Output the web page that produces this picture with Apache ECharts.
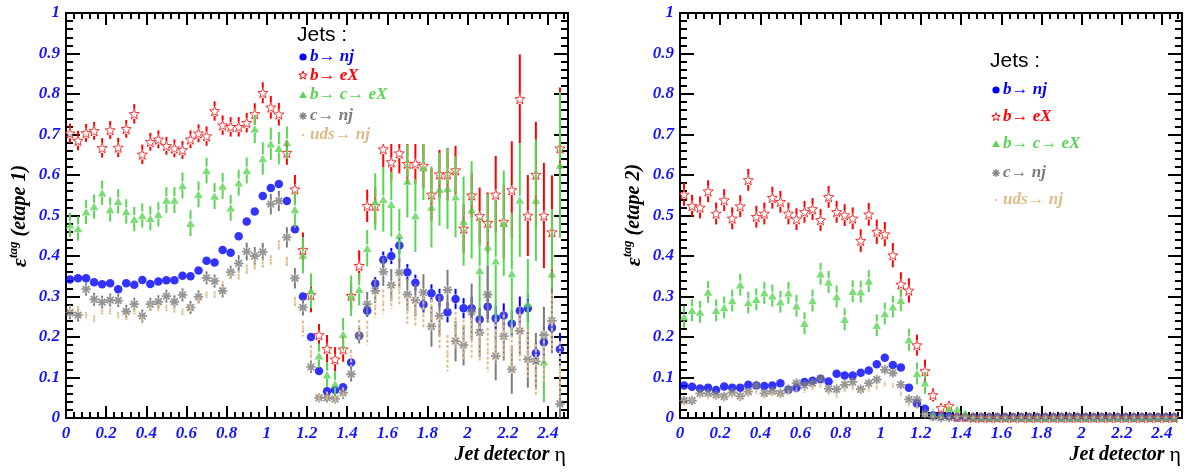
<!DOCTYPE html>
<html><head><meta charset="utf-8">
<script src="https://cdn.jsdelivr.net/npm/echarts@6/dist/echarts.min.js"></script>
<style>html,body{margin:0;padding:0;background:#fff;}#c{width:1190px;height:472px;}</style>
</head><body><div id="c"></div>
<script>
// bin centres (Jet detector eta)
const eta = [0.02,0.06,0.10,0.14,0.18,0.22,0.26,0.30,0.34,0.38,
 0.42,0.46,0.50,0.54,0.58,0.62,0.66,0.70,0.74,0.78,
 0.82,0.86,0.90,0.94,0.98,1.02,1.06,1.10,1.14,1.18,
 1.22,1.26,1.30,1.34,1.38,1.42,1.46,1.50,1.54,1.58,
 1.62,1.66,1.70,1.74,1.78,1.82,1.86,1.90,1.94,1.98,
 2.02,2.06,2.10,2.14,2.18,2.22,2.26,2.30,2.34,2.38,
 2.42,2.46];

const legendLabels = ['b\u2192 nj','b\u2192 eX','b\u2192 c\u2192 eX','c\u2192 nj','uds\u2192 nj'];

// ---- panel 1 (etape 1) ----
const bNjL = [0.342,0.345,0.345,0.335,0.330,0.333,0.318,0.333,0.329,0.341,
 0.331,0.337,0.340,0.340,0.351,0.350,0.364,0.388,0.384,0.415,
 0.408,0.449,0.485,0.510,0.548,0.568,0.578,0.536,0.466,0.300,
 0.200,0.116,0.066,0.069,0.076,0.137,0.203,0.265,0.332,0.391,
 0.400,0.426,0.360,0.334,0.280,0.308,0.297,0.261,0.294,0.271,
 0.271,0.243,0.275,0.246,0.253,0.233,0.265,0.271,0.160,0.187,
 0.223,0.170];
const bNjErrL = [0.005,0.005,0.005,0.005,0.005,0.005,0.005,0.005,0.005,0.005,
 0.005,0.005,0.005,0.005,0.005,0.005,0.005,0.005,0.005,0.005,
 0.005,0.007,0.007,0.007,0.007,0.007,0.007,0.007,0.007,0.010,
 0.010,0.010,0.008,0.008,0.008,0.010,0.012,0.015,0.016,0.020,
 0.020,0.020,0.020,0.020,0.020,0.022,0.022,0.025,0.025,0.025,
 0.028,0.028,0.030,0.030,0.030,0.032,0.035,0.035,0.025,0.040,
 0.030,0.040];
const bEXL = [0.703,0.685,0.704,0.709,0.667,0.711,0.668,0.714,0.751,0.651,
 0.682,0.688,0.672,0.666,0.662,0.688,0.703,0.696,0.758,0.723,
 0.719,0.719,0.729,0.751,0.803,0.767,0.750,0.655,0.565,0.415,
 0.304,0.205,0.171,0.145,0.170,0.302,0.376,0.524,0.524,0.664,
 0.632,0.654,0.628,0.628,0.623,0.552,0.602,0.602,0.612,0.468,
 0.550,0.499,0.482,0.552,0.485,0.563,0.788,0.500,0.601,0.500,
 0.459,0.666];
const bEXErrL = [0.024,0.024,0.022,0.022,0.024,0.022,0.024,0.022,0.024,0.024,
 0.022,0.022,0.022,0.022,0.022,0.022,0.022,0.024,0.024,0.024,
 0.024,0.024,0.024,0.026,0.026,0.028,0.028,0.030,0.035,0.043,
 0.043,0.027,0.034,0.030,0.031,0.033,0.038,0.040,0.047,0.045,
 0.045,0.050,0.050,0.050,0.055,0.065,0.060,0.065,0.060,0.060,
 0.055,0.070,0.075,0.095,0.090,0.120,0.110,0.100,0.130,0.130,
 0.140,0.150];
const bcEXL = [0.477,0.468,0.509,0.522,0.556,0.515,0.535,0.510,0.491,0.500,
 0.493,0.503,0.538,0.538,0.574,0.481,0.552,0.611,0.548,0.573,
 0.519,0.581,0.611,0.714,0.641,0.677,0.666,0.680,0.515,0.402,
 0.314,0.154,0.107,0.084,0.207,0.302,0.318,0.419,0.534,0.540,
 0.528,0.451,0.585,0.500,0.618,0.521,0.565,0.567,0.546,0.486,
 0.514,0.365,0.423,0.388,0.481,0.357,0.538,0.283,0.538,0.139,
 0.356,0.625];
const bcEXErrL = [0.030,0.030,0.030,0.030,0.030,0.030,0.030,0.030,0.030,0.030,
 0.030,0.030,0.032,0.032,0.032,0.032,0.032,0.032,0.032,0.032,
 0.032,0.032,0.032,0.035,0.040,0.040,0.040,0.040,0.045,0.045,
 0.043,0.030,0.030,0.030,0.040,0.050,0.040,0.045,0.070,0.080,
 0.080,0.065,0.090,0.090,0.080,0.100,0.090,0.100,0.100,0.110,
 0.120,0.130,0.130,0.150,0.130,0.150,0.140,0.110,0.150,0.100,
 0.160,0.180];
const cNjL = [0.260,0.254,0.318,0.293,0.286,0.291,0.290,0.263,0.281,0.252,
 0.281,0.287,0.301,0.287,0.304,0.273,0.299,0.346,0.338,0.314,
 0.360,0.382,0.411,0.400,0.410,0.528,0.536,0.446,0.345,0.273,
 0.126,0.050,0.050,0.047,0.062,0.108,0.204,0.281,0.314,0.361,
 0.328,0.359,0.305,0.291,0.310,0.226,0.252,0.316,0.190,0.180,
 0.262,0.211,0.305,0.153,0.202,0.120,0.215,0.145,0.140,0.205,
 0.240,0.035];
const cNjErrL = [0.016,0.016,0.016,0.016,0.016,0.016,0.016,0.016,0.016,0.016,
 0.016,0.016,0.016,0.016,0.016,0.016,0.016,0.016,0.016,0.016,
 0.016,0.020,0.022,0.022,0.022,0.025,0.025,0.025,0.025,0.020,
 0.015,0.012,0.012,0.012,0.015,0.018,0.020,0.030,0.030,0.035,
 0.040,0.035,0.040,0.040,0.045,0.050,0.050,0.050,0.050,0.050,
 0.070,0.060,0.070,0.060,0.060,0.060,0.060,0.070,0.070,0.070,
 0.080,0.070];
const udsNjL = [0.270,0.268,0.254,0.245,0.264,0.264,0.254,0.250,0.264,0.242,
 0.275,0.272,0.272,0.268,0.262,0.270,0.291,0.304,0.305,0.330,
 0.353,0.353,0.367,0.378,0.382,0.390,0.427,0.386,0.287,0.221,
 0.160,0.050,0.055,0.045,0.060,0.148,0.217,0.210,0.277,0.287,
 0.300,0.316,0.267,0.264,0.260,0.254,0.209,0.160,0.217,0.193,
 0.197,0.190,0.168,0.190,0.200,0.170,0.200,0.160,0.118,0.151,
 0.238,0.120];
const udsNjErrL = [0.008,0.008,0.008,0.008,0.008,0.008,0.008,0.008,0.008,0.008,
 0.008,0.008,0.008,0.008,0.008,0.008,0.008,0.008,0.008,0.008,
 0.008,0.012,0.012,0.012,0.012,0.012,0.012,0.012,0.012,0.020,
 0.020,0.010,0.010,0.010,0.015,0.020,0.025,0.030,0.030,0.030,
 0.030,0.035,0.035,0.035,0.040,0.040,0.040,0.045,0.045,0.050,
 0.050,0.050,0.055,0.055,0.055,0.060,0.060,0.060,0.065,0.065,
 0.070,0.070];

// ---- panel 2 (etape 2) ----
const bNjR = [0.080,0.077,0.073,0.075,0.069,0.078,0.075,0.075,0.082,0.080,
 0.079,0.080,0.086,0.070,0.075,0.089,0.092,0.096,0.090,0.109,
 0.105,0.105,0.112,0.117,0.133,0.149,0.131,0.125,0.075,0.036,
 0.023,0.007,0.005,0.005,0.002,0.002,0.002,0.002,0.002,0.002,
 0.002,0.002,0.002,0.002,0.002,0.002,0.002,0.002,0.002,0.002,
 0.002,0.002,0.002,0.002,0.002,0.002,0.002,0.002,0.002,0.002,
 0.002,0.002];
const bNjErrR = [0.004,0.004,0.004,0.004,0.004,0.004,0.004,0.004,0.004,0.004,
 0.004,0.004,0.004,0.004,0.004,0.004,0.004,0.004,0.004,0.004,
 0.004,0.004,0.004,0.004,0.004,0.004,0.004,0.004,0.004,0.004,
 0.004,0.003,0.002,0.002,0.001,0.001,0.001,0.001,0.001,0.001,
 0.001,0.001,0.001,0.001,0.001,0.001,0.001,0.001,0.001,0.001,
 0.001,0.001,0.001,0.001,0.001,0.001,0.001,0.001,0.001,0.001,
 0.001,0.001];
const bEXR = [0.552,0.524,0.520,0.560,0.505,0.538,0.493,0.523,0.588,0.497,
 0.505,0.544,0.534,0.505,0.491,0.509,0.516,0.489,0.546,0.509,
 0.501,0.493,0.438,0.503,0.460,0.454,0.402,0.330,0.315,0.180,
 0.116,0.057,0.025,0.030,0.003,0.003,0.001,0.001,0.001,0.001,
 0.001,0.001,0.001,0.001,0.001,0.001,0.001,0.001,0.001,0.001,
 0.001,0.001,0.001,0.001,0.001,0.001,0.001,0.001,0.001,0.001,
 0.001,0.001];
const bEXErrR = [0.028,0.027,0.027,0.027,0.027,0.027,0.027,0.027,0.027,0.027,
 0.027,0.027,0.027,0.027,0.027,0.027,0.027,0.027,0.027,0.027,
 0.027,0.027,0.028,0.028,0.030,0.030,0.030,0.030,0.030,0.026,
 0.028,0.016,0.012,0.012,0.002,0.002,0.001,0.001,0.001,0.001,
 0.001,0.001,0.001,0.001,0.001,0.001,0.001,0.001,0.001,0.001,
 0.001,0.001,0.001,0.001,0.001,0.001,0.001,0.001,0.001,0.001,
 0.001,0.001];
const bcEXR = [0.250,0.266,0.262,0.311,0.266,0.273,0.290,0.329,0.285,0.293,
 0.309,0.302,0.287,0.309,0.277,0.234,0.290,0.356,0.336,0.300,
 0.244,0.313,0.312,0.338,0.229,0.258,0.275,0.291,0.193,0.110,
 0.087,0.010,0.007,0.024,0.022,0.012,0.001,0.001,0.001,0.001,
 0.001,0.001,0.001,0.001,0.001,0.001,0.001,0.001,0.001,0.001,
 0.001,0.001,0.001,0.001,0.001,0.001,0.001,0.001,0.001,0.001,
 0.001,0.001];
const bcEXErrR = [0.027,0.027,0.027,0.027,0.027,0.027,0.027,0.027,0.027,0.027,
 0.027,0.027,0.027,0.027,0.027,0.027,0.027,0.027,0.027,0.027,
 0.027,0.027,0.027,0.027,0.027,0.027,0.027,0.027,0.027,0.027,
 0.027,0.012,0.010,0.010,0.010,0.008,0.001,0.001,0.001,0.001,
 0.001,0.001,0.001,0.001,0.001,0.001,0.001,0.001,0.001,0.001,
 0.001,0.001,0.001,0.001,0.001,0.001,0.001,0.001,0.001,0.001,
 0.001,0.001];
const cNjR = [0.043,0.043,0.061,0.061,0.057,0.053,0.063,0.054,0.065,0.080,
 0.061,0.066,0.061,0.071,0.086,0.081,0.086,0.097,0.072,0.071,
 0.082,0.089,0.071,0.086,0.095,0.119,0.111,0.082,0.046,0.045,
 0.010,0.003,0.001,0.001,0.001,0.001,0.001,0.001,0.001,0.001,
 0.001,0.001,0.001,0.001,0.001,0.001,0.001,0.001,0.001,0.001,
 0.001,0.001,0.001,0.001,0.001,0.001,0.001,0.001,0.001,0.001,
 0.001,0.001];
const cNjErrR = [0.008,0.008,0.008,0.008,0.008,0.008,0.008,0.008,0.008,0.008,
 0.008,0.008,0.008,0.008,0.008,0.008,0.008,0.008,0.008,0.008,
 0.008,0.008,0.008,0.008,0.008,0.008,0.008,0.008,0.008,0.008,
 0.006,0.004,0.001,0.001,0.001,0.001,0.001,0.001,0.001,0.001,
 0.001,0.001,0.001,0.001,0.001,0.001,0.001,0.001,0.001,0.001,
 0.001,0.001,0.001,0.001,0.001,0.001,0.001,0.001,0.001,0.001,
 0.001,0.001];
const udsNjR = [0.038,0.045,0.055,0.052,0.050,0.048,0.055,0.050,0.060,0.065,
 0.055,0.060,0.056,0.062,0.068,0.068,0.075,0.080,0.062,0.055,
 0.070,0.075,0.066,0.072,0.076,0.084,0.080,0.059,0.035,0.028,
 0.010,0.004,0.001,0.001,0.001,0.001,0.001,0.001,0.001,0.001,
 0.001,0.001,0.001,0.001,0.001,0.001,0.001,0.001,0.001,0.001,
 0.001,0.001,0.001,0.001,0.001,0.001,0.001,0.001,0.001,0.001,
 0.001,0.001];
const udsNjErrR = [0.006,0.006,0.006,0.006,0.006,0.006,0.006,0.006,0.006,0.006,
 0.006,0.006,0.006,0.006,0.006,0.006,0.006,0.006,0.006,0.006,
 0.006,0.006,0.006,0.006,0.006,0.006,0.006,0.006,0.006,0.006,
 0.004,0.003,0.001,0.001,0.001,0.001,0.001,0.001,0.001,0.001,
 0.001,0.001,0.001,0.001,0.001,0.001,0.001,0.001,0.001,0.001,
 0.001,0.001,0.001,0.001,0.001,0.001,0.001,0.001,0.001,0.001,
 0.001,0.001];

// ---------- styling ----------
const BLUE = '#0000ff', RED = '#ff0000', GREEN = '#59d454', GRAY = '#7c7c7c', TAN = '#deba87';
const LABEL_BLUE = '#1414ff';
const SERIF = '"Liberation Serif", "DejaVu Serif", serif';
const SANS = '"Liberation Sans", Arial, sans-serif';

const STAR_UNIT = [[0,-1],[0.247,-0.34],[0.951,-0.309],[0.399,0.13],[0.588,0.809],[0,0.42],[-0.588,0.809],[-0.399,0.13],[-0.951,-0.309],[-0.247,-0.34]];
const STAR = 'path://M' + STAR_UNIT.map(p => p[0] + ',' + p[1]).join(' L') + ' Z';
const AST = 'path://M-1,-0.19 L1,-0.19 L1,0.19 L-1,0.19 Z M-0.19,-1 L0.19,-1 L0.19,1 L-0.19,1 Z ' +
  'M-0.566,-0.834 L0.834,0.566 L0.566,0.834 L-0.834,-0.566 Z M0.834,-0.566 L-0.566,0.834 L-0.834,0.566 L0.566,-0.834 Z';

const kinds = [
  {color: BLUE, symbol: 'circle', size: 8.5, gap: 4.5, item: {color: BLUE}},
  {color: RED, symbol: STAR, size: 10, gap: 5, item: {color: '#ffffff', borderColor: RED, borderWidth: 1}},
  {color: GREEN, symbol: 'triangle', size: [8.5, 7.5], gap: 4, item: {color: GREEN}},
  {color: GRAY, symbol: AST, size: 9.5, gap: 4.5, item: {color: GRAY}},
  {color: TAN, symbol: 'circle', size: 2.6, gap: 1.5, item: {color: TAN}, dash: [3, 2]}
];

function errRender(color, gap, dash) {
  return function (params, api) {
    const x = api.value(0), y = api.value(1), e = api.value(2);
    const lo = Math.max(0, y - e), hi = Math.min(1, y + e);
    const pc = api.coord([x, y]);
    const pt = api.coord([x, hi]);
    const pb = api.coord([x, lo]);
    const st = {stroke: color, lineWidth: 2, lineDash: dash || null};
    const ch = [];
    if (pc[1] - gap - pt[1] > 0.5) ch.push({type: 'line', shape: {x1: pc[0], y1: pt[1], x2: pc[0], y2: pc[1] - gap}, style: st});
    if (pb[1] - (pc[1] + gap) > 0.5) ch.push({type: 'line', shape: {x1: pc[0], y1: pc[1] + gap, x2: pc[0], y2: pb[1]}, style: st});
    return {type: 'group', children: ch};
  };
}

function panelSeries(p, vals, errs) {
  const out = [];
  vals.forEach((v, k) => {
    const kd = kinds[k];
    out.push({
      type: 'custom', name: 'err' + p + '_' + k, xAxisIndex: p * 2, yAxisIndex: p * 2,
      z: 2 + k, silent: true, encode: {x: 0, y: 1},
      data: eta.map((x, i) => [x, v[i], errs[k][i]]),
      renderItem: errRender(kd.color, kd.gap, kd.dash)
    });
    out.push({
      type: 'scatter', name: legendLabels[k] + p, xAxisIndex: p * 2, yAxisIndex: p * 2,
      z: 2 + k, silent: true, symbol: kd.symbol, symbolSize: kd.size, itemStyle: kd.item,
      data: eta.map((x, i) => [x, v[i]])
    });
  });
  return out;
}

function xAx(g, pos, lab) {
  return {
    type: 'value', gridIndex: g, position: pos, min: 0, max: 2.5, interval: 0.2,
    axisLine: {onZero: false, lineStyle: {color: '#000', width: 2}},
    axisTick: {inside: true, length: 12, lineStyle: {color: '#000', width: 2}},
    minorTick: {show: true, splitNumber: 5, length: 6, lineStyle: {color: '#000', width: 2}},
    splitLine: {show: false},
    axisLabel: lab ? {show: true, color: LABEL_BLUE, fontFamily: SERIF, fontWeight: 'bold', fontStyle: 'italic',
      fontSize: 17, margin: 7, showMaxLabel: false} : {show: false}
  };
}
function yAx(g, pos, lab) {
  return {
    type: 'value', gridIndex: g, position: pos, min: 0, max: 1, interval: 0.1,
    axisLine: {onZero: false, lineStyle: {color: '#000', width: 2}},
    axisTick: {inside: true, length: 14, lineStyle: {color: '#000', width: 2}},
    minorTick: {show: true, splitNumber: 5, length: 7, lineStyle: {color: '#000', width: 2}},
    splitLine: {show: false},
    axisLabel: lab ? {show: true, color: LABEL_BLUE, fontFamily: SERIF, fontWeight: 'bold', fontStyle: 'italic',
      fontSize: 17, margin: 6} : {show: false}
  };
}

// ---------- legends & titles (graphic) ----------
function legendMarker(k, cx, cy) {
  if (k === 0) return [{type: 'circle', z: 101, shape: {cx: cx, cy: cy, r: 3.6}, style: {fill: BLUE}}];
  if (k === 1) return [{type: 'polygon', z: 101, shape: {points: STAR_UNIT.map(q => [cx + q[0] * 4.4, cy + q[1] * 4.4])},
    style: {fill: '#fff', stroke: RED, lineWidth: 1}}];
  if (k === 2) return [{type: 'polygon', z: 101, shape: {points: [[cx, cy - 3.8], [cx + 3.8, cy + 3], [cx - 3.8, cy + 3]]}, style: {fill: GREEN}}];
  if (k === 3) {
    const r = 3.8, d = 2.7, st = {stroke: GRAY, lineWidth: 1.4};
    return [
      {type: 'line', z: 101, shape: {x1: cx - r, y1: cy, x2: cx + r, y2: cy}, style: st},
      {type: 'line', z: 101, shape: {x1: cx, y1: cy - r, x2: cx, y2: cy + r}, style: st},
      {type: 'line', z: 101, shape: {x1: cx - d, y1: cy - d, x2: cx + d, y2: cy + d}, style: st},
      {type: 'line', z: 101, shape: {x1: cx + d, y1: cy - d, x2: cx - d, y2: cy + d}, style: st}
    ];
  }
  return [{type: 'circle', z: 101, shape: {cx: cx, cy: cy, r: 1.1}, style: {fill: TAN}}];
}
function legendBlock(titleX, titleY, markX, textX, rows) {
  const els = [{type: 'text', z: 101, x: titleX, y: titleY,
    style: {text: 'Jets :', fill: '#000', font: '21px ' + SANS, textAlign: 'left', textVerticalAlign: 'middle', align: 'left', verticalAlign: 'middle'}}];
  rows.forEach((yy, k) => {
    legendMarker(k, markX, yy).forEach(e => els.push(e));
    els.push({type: 'text', z: 101, x: textX, y: yy,
      style: {text: legendLabels[k], fill: kinds[k].color, font: 'italic bold 17px ' + SERIF,
        textAlign: 'left', textVerticalAlign: 'middle', align: 'left', verticalAlign: 'middle'}});
  });
  return els;
}
function yTitle(x, y, txt) {
  const base = {fontFamily: SERIF, fontWeight: 'bold', fontStyle: 'italic', fill: '#000'};
  return {type: 'text', z: 101, x: x, y: y, rotation: Math.PI / 2,
    style: {text: '{e|\u03b5}{t|tag}{n| ' + txt + '}', textAlign: 'center', textVerticalAlign: 'middle', align: 'center', verticalAlign: 'middle',
      rich: {
        e: Object.assign({fontSize: 22, lineHeight: 26}, base),
        t: Object.assign({fontSize: 13, lineHeight: 12, verticalAlign: 'top'}, base),
        n: Object.assign({fontSize: 20, lineHeight: 26}, base)
      }}};
}
function xTitle(x, y) {
  return {type: 'text', z: 101, x: x, y: y,
    style: {text: '{a|Jet detector }{b|\u03b7}', textAlign: 'right', textVerticalAlign: 'middle', align: 'right', verticalAlign: 'middle',
      rich: {
        a: {fontFamily: SERIF, fontWeight: 'bold', fontStyle: 'italic', fontSize: 20, fill: '#000'},
        b: {fontFamily: SERIF, fontSize: 22, fill: '#000'}
      }}};
}

const graphics = [
  {type: 'rect', z: 90, shape: {x: 292, y: 26, width: 140, height: 118}, style: {fill: '#ffffff'}},
  ...legendBlock(297, 35, 303, 310, [57, 75.5, 95, 116, 135]),
  ...legendBlock(990, 61, 996, 1003, [90, 117, 144, 173, 200]),
  yTitle(20, 216, '(etape 1)'),
  yTitle(634, 215, '(etape 2)'),
  xTitle(566, 455),
  xTitle(1181, 455)
];

const option = {
  animation: false,
  backgroundColor: '#ffffff',
  grid: [{left: 66, top: 13, width: 502, height: 405}, {left: 680, top: 13, width: 502, height: 405}],
  xAxis: [xAx(0, 'bottom', true), xAx(0, 'top', false), xAx(1, 'bottom', true), xAx(1, 'top', false)],
  yAxis: [yAx(0, 'left', true), yAx(0, 'right', false), yAx(1, 'left', true), yAx(1, 'right', false)],
  series: [
    ...panelSeries(0, [bNjL, bEXL, bcEXL, cNjL, udsNjL], [bNjErrL, bEXErrL, bcEXErrL, cNjErrL, udsNjErrL]),
    ...panelSeries(1, [bNjR, bEXR, bcEXR, cNjR, udsNjR], [bNjErrR, bEXErrR, bcEXErrR, cNjErrR, udsNjErrR])
  ],
  graphic: graphics
};
const chart = echarts.init(document.getElementById('c'), null, {renderer: 'canvas'});
chart.setOption(option);
</script></body></html>
